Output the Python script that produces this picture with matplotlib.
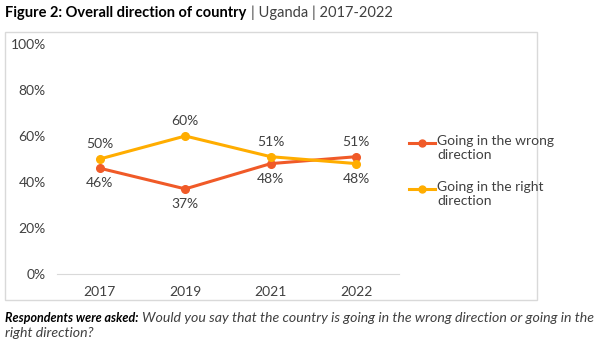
import matplotlib.pyplot as plt
from matplotlib.patches import Rectangle
from matplotlib.lines import Line2D

plt.rcParams['font.family'] = ['Lato', 'DejaVu Sans']

years = ['2017', '2019', '2021', '2022']
wrong = [46, 37, 48, 51]
right = [50, 60, 51, 48]
y_ticks = [0, 20, 40, 60, 80, 100]
series_names = ['Going in the wrong\ndirection', 'Going in the right\ndirection']

wrong_color = '#F05A28'
right_color = '#FFAD00'
text_color = '#404040'

W, H = 602, 347
fig = plt.figure(figsize=(W / 100, H / 100), dpi=100)


def fx(px):
    return px / W


def fy(py):
    return 1 - py / H


# light frame round the chart area
fig.patches.append(Rectangle((fx(5), fy(300)), 532 / W, 268 / H,
                             transform=fig.transFigure, fill=False,
                             edgecolor='#D9D9D9', linewidth=1))

ax = fig.add_axes([fx(57), fy(274), 342 / W, 230 / H])
x = list(range(len(years)))
ax.plot(x, wrong, '-o', color=wrong_color, linewidth=2.2, markersize=5.5, zorder=3)
ax.plot(x, right, '-o', color=right_color, linewidth=2.2, markersize=5.5, zorder=3)

ax.set_xlim(-0.5, len(years) - 0.5)
ax.set_ylim(0, 100)
ax.set_xticks(x)
ax.set_xticklabels(years)
ax.set_yticks(y_ticks)
ax.set_yticklabels([f'{v}%' for v in y_ticks])
ax.tick_params(length=0, colors=text_color, labelsize=10)
ax.tick_params(axis='x', pad=9)
ax.tick_params(axis='y', pad=8)
for side in ['top', 'right', 'left']:
    ax.spines[side].set_visible(False)
ax.spines['bottom'].set_color('#D9D9D9')

# value labels: the higher point gets its label above, the lower below
for i in x:
    for vals, other in [(wrong, right), (right, wrong)]:
        above = vals[i] >= other[i]
        ax.annotate(f'{vals[i]}%', (i, vals[i]), xytext=(0, 15 if above else -15),
                    textcoords='offset pixels',
                    ha='center', va='center', fontsize=10, color=text_color)

# legend, marker level with the first line of each entry
for name, color, top in [(series_names[0], wrong_color, 143),
                         (series_names[1], right_color, 189)]:
    fig.add_artist(Line2D([fx(409), fx(435)], [fy(top), fy(top)],
                          transform=fig.transFigure, color=color, linewidth=2.2))
    fig.add_artist(Line2D([fx(422)], [fy(top)], transform=fig.transFigure,
                          marker='o', markersize=5, color=color))
    fig.text(fx(437), fy(top - 8), name, fontsize=10, color=text_color,
             va='top', linespacing=1.2)

renderer = fig.canvas.get_renderer()

title = fig.text(fx(5), fy(13), 'Figure 2: Overall direction of country', fontsize=10.5,
                 fontweight='bold', color='#000000', va='center')
tx = title.get_window_extent(renderer).x1
fig.text(tx / W + fx(5), fy(13), '| Uganda | 2017-2022', fontsize=10.5,
         color=text_color, va='center')

note = fig.text(fx(5), fy(318), 'Respondents were asked:', fontsize=9,
                fontweight='bold', fontstyle='italic', color='#000000', va='center')
nx = note.get_window_extent(renderer).x1
fig.text(nx / W + fx(3), fy(318),
         'Would you say that the country is going in the wrong direction or going in the',
         fontsize=10.2, fontstyle='italic', color=text_color, va='center')
fig.text(fx(5), fy(333), 'right direction?', fontsize=10.2,
         fontstyle='italic', color=text_color, va='center')

fig.savefig('out.png', dpi=100)
